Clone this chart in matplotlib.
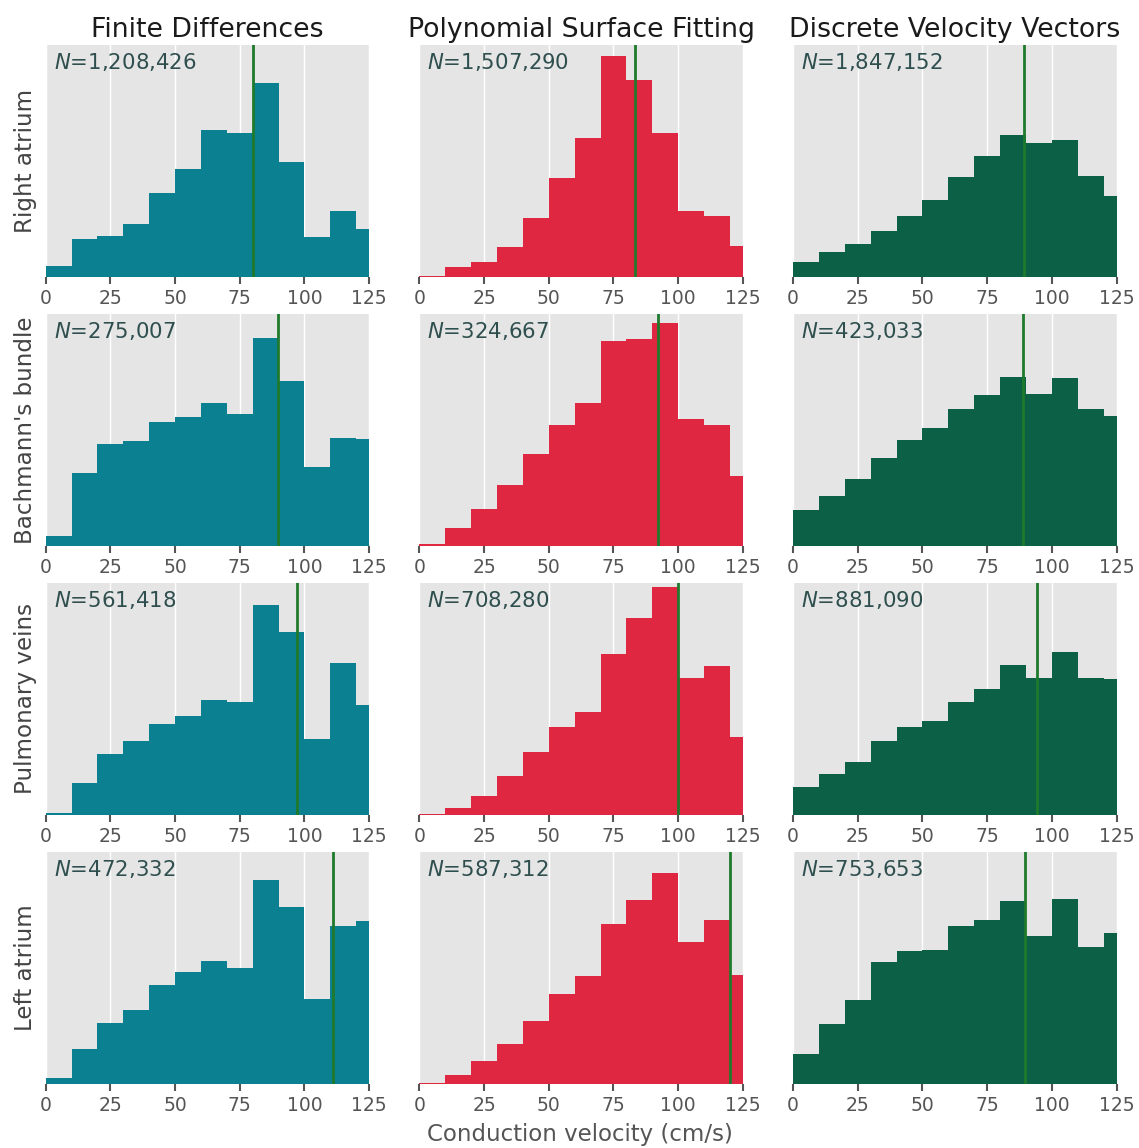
import numpy as np
import matplotlib
matplotlib.use("Agg")
import matplotlib.pyplot as plt

# Histogram bin edges (cm/s); last bin is clipped at 125
bin_edges = [0, 10, 20, 30, 40, 50, 60, 70, 80, 90, 100, 110, 120, 125]

methods = ["Finite Differences", "Polynomial Surface Fitting", "Discrete Velocity Vectors"]
regions = ["Right atrium", "Bachmann's bundle", "Pulmonary veins", "Left atrium"]

# Probability density (x 1e-3 per cm/s) per bin, one list per region/method
ra_fd = [1.0, 3.6, 3.9, 5.0, 7.9, 10.2, 13.9, 13.6, 18.4, 10.9, 3.8, 6.2, 4.5]
ra_psf = [0.1, 0.9, 1.4, 2.8, 5.6, 9.4, 13.2, 21.0, 18.7, 13.6, 6.2, 5.8, 2.9]
ra_dvv = [1.4, 2.3, 3.1, 4.3, 5.8, 7.3, 9.5, 11.5, 13.5, 12.7, 13.0, 9.6, 7.7]

bb_fd = [0.9, 6.9, 9.7, 9.9, 11.7, 12.2, 13.5, 12.5, 19.7, 15.6, 7.5, 10.2, 10.1]
bb_psf = [0.2, 1.7, 3.5, 5.8, 8.7, 11.5, 13.5, 19.4, 19.6, 21.1, 12.0, 11.5, 6.6]
bb_dvv = [3.4, 4.7, 6.3, 8.3, 10.0, 11.2, 13.0, 14.3, 16.0, 14.4, 15.9, 13.0, 12.3]

pv_fd = [0.2, 3.0, 5.8, 7.0, 8.6, 9.4, 10.9, 10.7, 19.9, 17.3, 7.2, 14.4, 10.4]
pv_psf = [0.1, 0.6, 1.8, 3.7, 5.9, 8.3, 9.7, 15.3, 18.7, 21.6, 13.0, 14.1, 7.4]
pv_dvv = [2.6, 3.9, 5.0, 7.0, 8.3, 8.9, 10.7, 11.9, 14.2, 13.0, 15.4, 13.0, 12.9]

la_fd = [0.5, 3.3, 5.8, 7.0, 9.4, 10.6, 11.6, 11.0, 19.3, 16.8, 8.0, 15.0, 15.4]
la_psf = [0.1, 0.8, 2.1, 3.8, 5.9, 8.5, 10.2, 15.2, 17.4, 20.0, 13.4, 15.5, 10.3]
la_dvv = [2.8, 5.7, 7.9, 11.5, 12.6, 12.7, 15.0, 15.5, 17.3, 14.0, 17.5, 13.0, 14.3]

densities = [
    [ra_fd, ra_psf, ra_dvv],
    [bb_fd, bb_psf, bb_dvv],
    [pv_fd, pv_psf, pv_dvv],
    [la_fd, la_psf, la_dvv],
]

# Median conduction velocity (cm/s)
medians = [
    [80.3, 83.2, 89.2],
    [89.7, 92.1, 88.7],
    [97.3, 100.0, 94.4],
    [111.2, 120.2, 89.5],
]

# Number of samples
counts = [
    [1208426, 1507290, 1847152],
    [275007, 324667, 423033],
    [561418, 708280, 881090],
    [472332, 587312, 753653],
]

x_ticks = [0, 25, 50, 75, 100, 125]

method_colors = ["#0a8090", "#e02742", "#0b6045"]
median_color = "#1f7a2c"
text_color = "#2f4f4f"
tick_color = "#555555"

fig = plt.figure(figsize=(11.39, 11.48), dpi=100)

left0, col_step, ax_w = 0.0401, 0.3281, 0.2840
bottom0, row_step, ax_h = 0.7590, 0.2343, 0.2018

for r in range(4):
    for c in range(3):
        ax = fig.add_axes([left0 + c * col_step, bottom0 - r * row_step, ax_w, ax_h])
        ax.set_facecolor("#e5e5e5")
        ax.stairs(densities[r][c], bin_edges, fill=True, color=method_colors[c],
                  linewidth=0, zorder=2)
        ax.axvline(medians[r][c], color=median_color, linewidth=2.0, zorder=3)
        ax.set_xlim(0, 125)
        ax.set_ylim(0, 22)
        ax.set_xticks(x_ticks)
        ax.set_yticks([])
        ax.grid(axis="x", color="white", linewidth=1.0, zorder=1)
        ax.set_axisbelow(True)
        for s in ax.spines.values():
            s.set_visible(False)
        ax.tick_params(axis="x", colors=tick_color, labelsize=13.5, length=5,
                       width=1.5, pad=4)
        ax.text(0.025, 0.975, rf"$N$={counts[r][c]:,}", transform=ax.transAxes,
                ha="left", va="top", fontsize=15.3, color=text_color, zorder=4)
        if r == 0:
            ax.set_title(methods[c], fontsize=19.3, color="#1a1a1a", pad=6)
        if c == 0:
            ax.set_ylabel(regions[r], fontsize=16.6, color="#444444", labelpad=6)

fig.text(0.509, 0.012, "Conduction velocity (cm/s)", ha="center", va="center",
         fontsize=16.5, color=tick_color)

fig.savefig("out.png", dpi=100, facecolor="white")
